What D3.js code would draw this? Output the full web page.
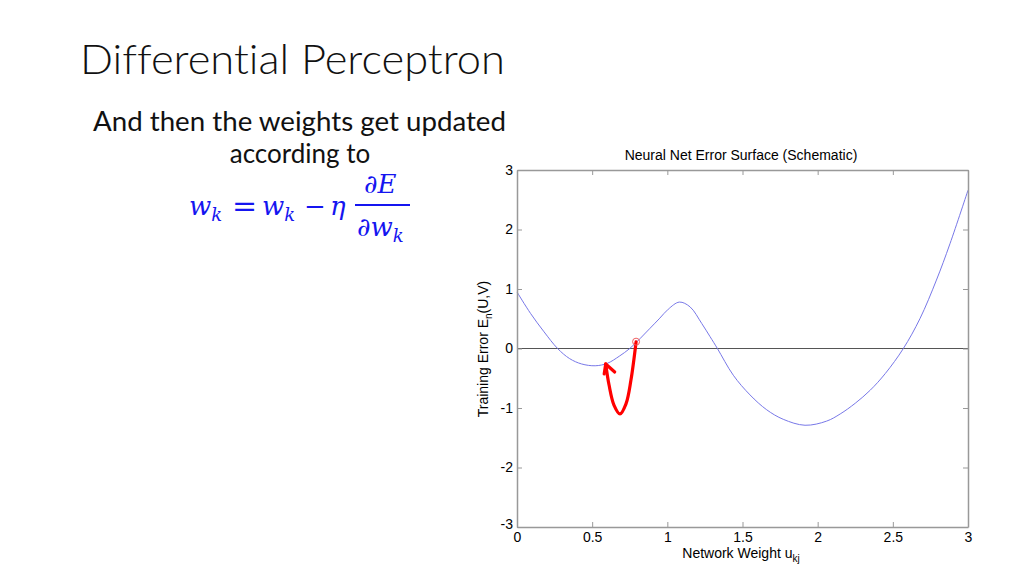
<!DOCTYPE html>
<meta charset="utf-8">
<style>
body { margin: 0; background: #fff; }
.slide { font-family: "Lato", "Open Sans", sans-serif; fill: #111; font-variant-ligatures: none; }
.lbl { font-family: "Liberation Sans", Arial, sans-serif; font-size: 14px; fill: #000; }
.math { font-family: "DejaVu Serif", "Liberation Serif", serif; font-style: italic; fill: #1515f0; }
</style>
<body>
<div id="vis-container"></div>
<script src="https://cdn.jsdelivr.net/npm/d3@7"></script>
<script>

// error curve
var xVals = [0, 0.09, 0.18, 0.27, 0.35, 0.43, 0.52, 0.6, 0.68, 0.75, 0.82, 0.885, 0.95, 1.006, 1.08, 1.151, 1.229, 1.284, 1.333, 1.439, 1.55, 1.661, 1.771, 1.916, 2.06, 2.15, 2.25, 2.35, 2.45, 2.57, 2.68, 2.79, 2.88, 3.0];
var yVals = [0.95, 0.59, 0.28, 0.0, -0.17, -0.26, -0.29, -0.25, -0.13, 0.0, 0.17, 0.34, 0.51, 0.66, 0.78, 0.70, 0.42, 0.20, 0.0, -0.45, -0.78, -1.03, -1.19, -1.29, -1.22, -1.10, -0.92, -0.70, -0.42, 0.0, 0.50, 1.15, 1.76, 2.66];

// red "jump" arrow (data units)
var arrowX = [0.792, 0.758, 0.725, 0.685, 0.645, 0.612, 0.590];
var arrowY = [0.11, -0.53, -0.93, -1.10, -0.95, -0.61, -0.26];
var startPoint = [0.792, 0.115];

var xTicks = [0, 0.5, 1, 1.5, 2, 2.5, 3];
var xTickLabels = ["0", "0.5", "1", "1.5", "2", "2.5", "3"];
var yTicks = [-3, -2, -1, 0, 1, 2, 3];
var yTickLabels = ["-3", "-2", "-1", "0", "1", "2", "3"];

var W = 1024, H = 576;
var svg = d3.select("#vis-container").append("svg")
	.attr("width", W)
	.attr("height", H);

svg.append("rect").attr("width", W).attr("height", H).attr("fill", "#fff");

// slide text
svg.append("text")
	.attr("class", "slide")
	.attr("x", 80).attr("y", 74)
	.attr("font-size", 41)
	.attr("font-weight", 300)
	.attr("textLength", 425)
	.attr("lengthAdjust", "spacingAndGlyphs")
	.text("Differential Perceptron");

svg.append("text")
	.attr("class", "slide")
	.attr("x", 93).attr("y", 131)
	.attr("font-size", 26)
	.attr("textLength", 413)
	.attr("lengthAdjust", "spacingAndGlyphs")
	.text("And then the weights get updated");

svg.append("text")
	.attr("class", "slide")
	.attr("x", 300).attr("y", 163)
	.attr("font-size", 26)
	.attr("text-anchor", "middle")
	.text("according to");

// formula w_k = w_k - eta dE/dw_k
var m = svg.append("g").attr("class", "math");
function wk(g, x, y) {
	var t = g.append("text").attr("x", x).attr("y", y).attr("font-size", 26);
	t.append("tspan").text("w");
	t.append("tspan").attr("font-size", 18).attr("dy", 6).text("k");
	return t;
}
wk(m, 189, 215);
m.append("text").attr("x", 232).attr("y", 216).attr("font-size", 30).style("font-style", "normal").text("=");
wk(m, 262, 215);
m.append("text").attr("x", 304).attr("y", 215).attr("font-size", 26).style("font-style", "normal").text("\u2212");
m.append("text").attr("x", 330).attr("y", 215).attr("font-size", 26).text("\u03b7");
m.append("line").attr("x1", 355).attr("x2", 410).attr("y1", 205).attr("y2", 205)
	.attr("stroke", "#1515f0").attr("stroke-width", 2);
m.append("text").attr("x", 364).attr("y", 193).attr("font-size", 26).text("\u2202E");
var den = m.append("text").attr("x", 357).attr("y", 236).attr("font-size", 26);
den.append("tspan").text("\u2202w");
den.append("tspan").attr("font-size", 18).attr("dy", 6).text("k");

// chart
var x = d3.scaleLinear().domain([0, 3]).range([517, 968]);
var y = d3.scaleLinear().domain([-3, 3]).range([527, 170]);

var boxColor = "#999";

// zero line
svg.append("line")
	.attr("x1", x(0)).attr("x2", x(3))
	.attr("y1", y(0)).attr("y2", y(0))
	.attr("stroke", "#555").attr("stroke-width", 1);

// curve
var pts = xVals.map(function(d, i) { return [d, yVals[i]]; });
svg.append("path")
	.datum(pts)
	.attr("fill", "none")
	.attr("stroke", "#7878e8")
	.attr("stroke-width", 1)
	.attr("d", d3.line().x(function(d) { return x(d[0]); }).y(function(d) { return y(d[1]); }).curve(d3.curveCatmullRom));

// axes (ticks inward, box on all sides)
var gx = svg.append("g").attr("transform", "translate(0," + y(-3) + ")")
	.call(d3.axisBottom(x).tickValues(xTicks).tickFormat(function(d, i) { return xTickLabels[i]; }).tickSizeInner(-5).tickSizeOuter(0).tickPadding(5));
var gxt = svg.append("g").attr("transform", "translate(0," + y(3) + ")")
	.call(d3.axisTop(x).tickValues(xTicks).tickFormat("").tickSizeInner(-5).tickSizeOuter(0));
var gy = svg.append("g").attr("transform", "translate(" + x(0) + ",0)")
	.call(d3.axisLeft(y).tickValues(yTicks).tickFormat(function(d, i) { return yTickLabels[i]; }).tickSizeInner(-5).tickSizeOuter(0).tickPadding(4));
var gyr = svg.append("g").attr("transform", "translate(" + x(3) + ",0)")
	.call(d3.axisRight(y).tickValues(yTicks).tickFormat("").tickSizeInner(-5).tickSizeOuter(0));

[gx, gxt, gy, gyr].forEach(function(g) {
	g.attr("font-size", 14).attr("font-family", "Liberation Sans, Arial, sans-serif");
	g.select(".domain").attr("stroke", boxColor).attr("stroke-width", 1.5);
	g.selectAll(".tick line").attr("stroke", boxColor);
	g.selectAll(".tick text").attr("fill", "#000");
});
gy.selectAll(".tick text").attr("dy", function(d) { return d === -3 ? "0.1em" : "0.32em"; });

// red arrow
var apts = arrowX.map(function(d, i) { return [d, arrowY[i]]; });
svg.append("path")
	.datum(apts)
	.attr("fill", "none")
	.attr("stroke", "#f00")
	.attr("stroke-width", 3.2)
	.attr("stroke-linecap", "round")
	.attr("d", d3.line().x(function(d) { return x(d[0]); }).y(function(d) { return y(d[1]); }).curve(d3.curveCatmullRom));

var tip = apts[apts.length - 1];
var tx = x(tip[0]), ty = y(tip[1]);
svg.append("path")
	.attr("fill", "none")
	.attr("stroke", "#f00")
	.attr("stroke-width", 3.2)
	.attr("stroke-linecap", "round")
	.attr("stroke-linejoin", "round")
	.attr("d", "M" + (tx - 1.5) + "," + (ty + 10) + "L" + tx + "," + ty + "L" + (tx + 9) + "," + (ty + 8));

svg.append("circle")
	.attr("cx", x(startPoint[0])).attr("cy", y(startPoint[1]))
	.attr("r", 3.5)
	.attr("fill", "none")
	.attr("stroke", "#f06060")
	.attr("stroke-width", 1);

// titles
svg.append("text").attr("class", "lbl")
	.attr("x", 741).attr("y", 160)
	.attr("text-anchor", "middle")
	.text("Neural Net Error Surface (Schematic)");

var xl = svg.append("text").attr("class", "lbl")
	.attr("x", 741).attr("y", 558)
	.attr("text-anchor", "middle");
xl.append("tspan").text("Network Weight u");
xl.append("tspan").attr("font-size", 10).attr("dy", 4).text("kj");

var yl = svg.append("text").attr("class", "lbl")
	.attr("transform", "translate(488,349) rotate(-90)")
	.attr("text-anchor", "middle");
yl.append("tspan").text("Training Error E");
yl.append("tspan").attr("font-size", 10).attr("dy", 4).text("n");
yl.append("tspan").attr("dy", -4).text("(U,V)");

</script>
</body>
</html>
